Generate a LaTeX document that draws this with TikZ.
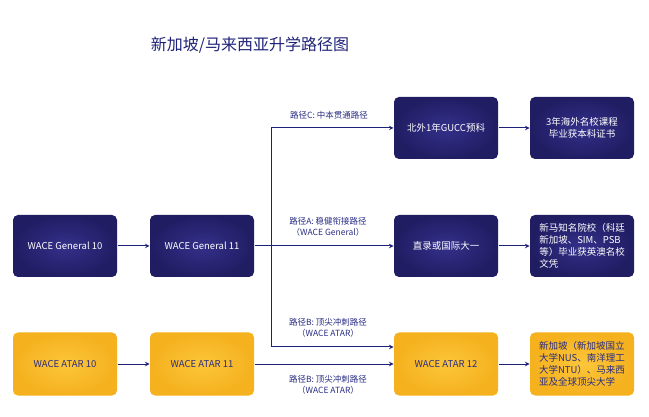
\documentclass[tikz,border=0pt]{standalone}
\usepackage{fontspec}
\setmainfont{Noto Sans CJK SC}
\usetikzlibrary{arrows}
\usetikzlibrary{calc}
\definecolor{navy1}{RGB}{30, 33, 120}
\definecolor{navy2}{RGB}{52, 48, 138}
\definecolor{navy3}{RGB}{33, 29, 99}
\definecolor{gold1}{RGB}{252, 198, 58}
\definecolor{gold2}{RGB}{245, 177, 30}
\definecolor{ink1}{RGB}{40, 44, 130}

\begin{document}
\begin{tikzpicture}[x=1pt, y=-1pt, line width =1pt, >=stealth,
  darkbox/.style={rectangle, rounded corners=5pt, inner color=navy2, outer color=navy3,
    minimum width=104pt, minimum height=62pt, text=white, font=\fontsize{9.5}{12}\selectfont},
  goldbox/.style={rectangle, rounded corners=5pt, inner color=gold1, outer color=gold2,
    minimum width=104pt, minimum height=63pt, text=ink1, font=\fontsize{9.5}{12}\selectfont},
  pathlabel/.style={text=ink1, align=center, font=\fontsize{8.5}{11.5}\selectfont}]
  \useasboundingbox (0,0) rectangle (649,417);

  \node[text=navy1, font=\fontsize{16}{18}\selectfont] (title) at (250,45) {新加坡/马来西亚升学路径图};

  \node[darkbox] (c1) at (446,128) {北外1年GUCC预科};
  \node[darkbox, align=center] (c2) at (582,128) {3年海外名校课程\\毕业获本科证书};

  \node[darkbox] (g10) at (65,246) {WACE General 10};
  \node[darkbox] (g11) at (202,246) {WACE General 11};
  \node[darkbox] (a1) at (446,246) {直录或国际大一};
  \node[darkbox, align=left] (a2) at (582,246) {新马知名院校（科廷\\新加坡、SIM、PSB\\等）毕业获英澳名校\\文凭};

  \node[goldbox] (t10) at (65,364) {WACE ATAR 10};
  \node[goldbox] (t11) at (202,364) {WACE ATAR 11};
  \node[goldbox] (t12) at (446,364) {WACE ATAR 12};
  \node[goldbox, align=left] (b2) at (582,364) {新加坡（新加坡国立\\大学NUS、南洋理工\\大学NTU）、马来西\\亚及全球顶尖大学};

  \coordinate (j) at (271,246);
  \coordinate (jb) at ($(t12.west)+(0,-17)$);

  \foreach \from/\to in {g10/g11, g11/a1, t10/t11, t11/t12, c1/c2, a1/a2, t12/b2}
   \draw[navy1,->] (\from) -- (\to);
  \draw[navy1,->] (j) |- (c1.west);
  \draw[navy1,->] (j) |- (jb);

  \node[pathlabel] (lc) at (329,115) {路径C: 中本贯通路径};
  \node[pathlabel] (la) at (328,227) {路径A: 稳健衔接路径\\（WACE General）};
  \node[pathlabel] (lb1) at (328,328) {路径B: 顶尖冲刺路径\\（WACE ATAR）};
  \node[pathlabel] (lb2) at (328,385) {路径B: 顶尖冲刺路径\\（WACE ATAR）};
    \end{tikzpicture}
\end{document}
